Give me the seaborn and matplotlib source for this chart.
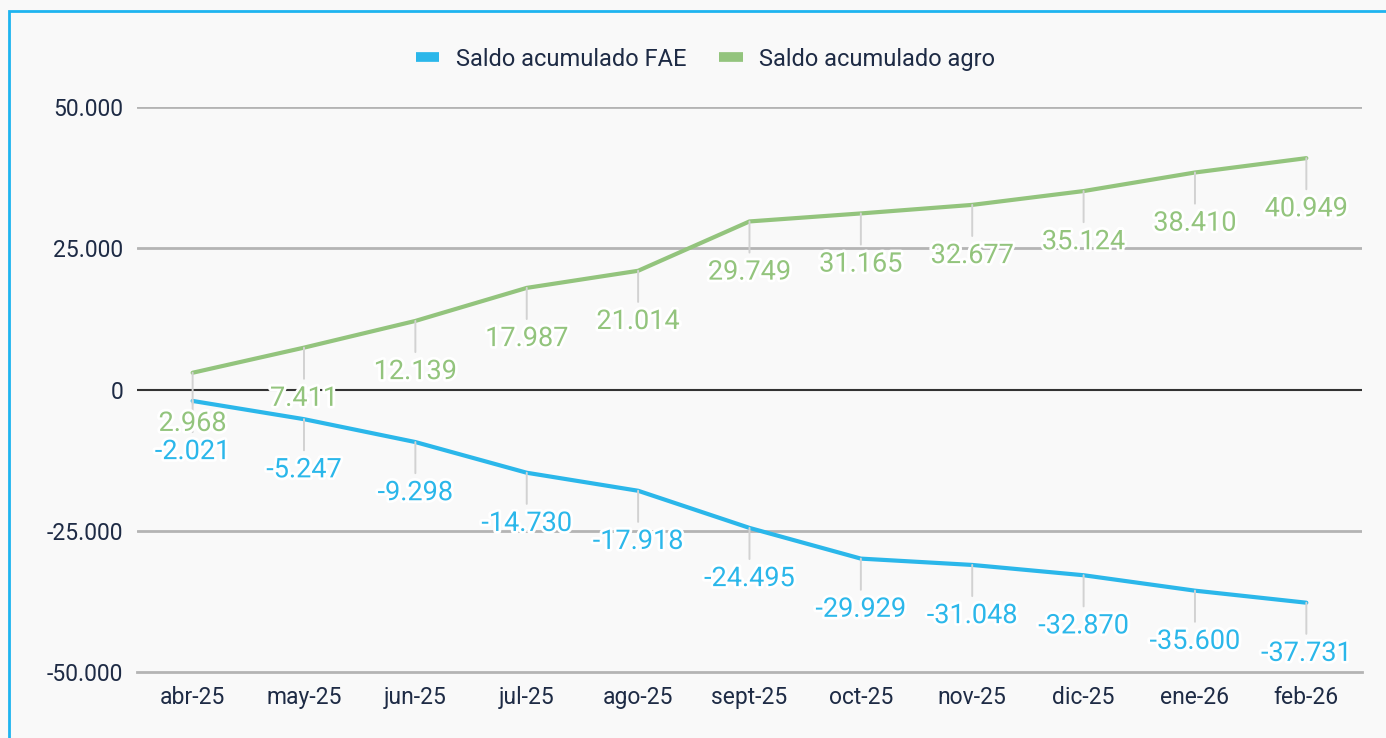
import matplotlib
matplotlib.use("Agg")
import matplotlib.pyplot as plt
import matplotlib.patheffects as pe
from matplotlib.lines import Line2D
from matplotlib.patches import Rectangle
from matplotlib.ticker import FuncFormatter
import seaborn as sns
import pandas as pd

# Data
months = ["abr-25", "may-25", "jun-25", "jul-25", "ago-25", "sept-25",
          "oct-25", "nov-25", "dic-25", "ene-26", "feb-26"]
saldo_fae = [-2021, -5247, -9298, -14730, -17918, -24495,
             -29929, -31048, -32870, -35600, -37731]
saldo_agro = [2968, 7411, 12139, 17987, 21014, 29749,
              31165, 32677, 35124, 38410, 40949]
series_names = ["Saldo acumulado FAE", "Saldo acumulado agro"]
colors = ["#2bb7ea", "#93c47d"]

df = pd.DataFrame({
    "mes": list(range(len(months))) * 2,
    "valor": saldo_fae + saldo_agro,
    "serie": [series_names[0]] * len(months) + [series_names[1]] * len(months),
})

sns.set_style("white")
plt.rcParams["font.family"] = ["Roboto", "DejaVu Sans"]
bg = "#f9f9f9"
text_col = "#1e2b45"

fig = plt.figure(figsize=(13.86, 7.38), dpi=100, facecolor=bg)
ax = fig.add_axes([0.0988, 0.0894, 0.8839, 0.7656], facecolor=bg)

sns.lineplot(data=df, x="mes", y="valor", hue="serie", palette=colors,
             linewidth=3, ax=ax, legend=False, zorder=3)

ax.set_xlim(-0.5, len(months) - 0.5)
ax.set_ylim(-50000, 50000)
ax.set_yticks([-50000, -25000, 0, 25000, 50000])
ax.set_xticks(range(len(months)))
ax.set_xticklabels(months)
ax.yaxis.set_major_formatter(FuncFormatter(lambda v, p: f"{int(v):,}".replace(",", ".")))
ax.tick_params(axis="both", length=0, labelsize=16.5, colors=text_col, pad=10)
ax.set_xlabel("")
ax.set_ylabel("")

for yv in [-25000, 25000, 50000]:
    ax.axhline(yv, color="#b4b4b4", lw=2, zorder=1)
ax.axhline(0, color="#333333", lw=1.5, zorder=1)
for s in ["top", "left", "right"]:
    ax.spines[s].set_visible(False)
ax.spines["bottom"].set_color("#b4b4b4")
ax.spines["bottom"].set_linewidth(2)

# data labels with leader lines
for vals, c in zip([saldo_fae, saldo_agro], colors):
    for i, v in enumerate(vals):
        ax.annotate(f"{v:,}".replace(",", "."), xy=(i, v), xytext=(0, -36.5),
                    textcoords="offset points", ha="center", va="center",
                    fontsize=19.5, color=c, zorder=5,
                    path_effects=[pe.withStroke(linewidth=4, foreground="white")],
                    arrowprops=dict(arrowstyle="-", color="#d2d2d2", lw=1.4,
                                    shrinkA=2, shrinkB=0))

handles = [Line2D([0], [0], color=c, lw=7, solid_capstyle="butt") for c in colors]
fig.legend(handles, series_names, loc="center", bbox_to_anchor=(0.509, 0.92),
           ncol=2, frameon=False, fontsize=17, handlelength=1.0,
           handletextpad=0.7, columnspacing=1.4, labelcolor=text_col)

fig.patches.append(Rectangle((0.0065, -0.1), 1.2, 1.085, transform=fig.transFigure,
                             fill=False, edgecolor="#1eb4f0", lw=2))

fig.savefig("out.png", dpi=100, facecolor=bg)
